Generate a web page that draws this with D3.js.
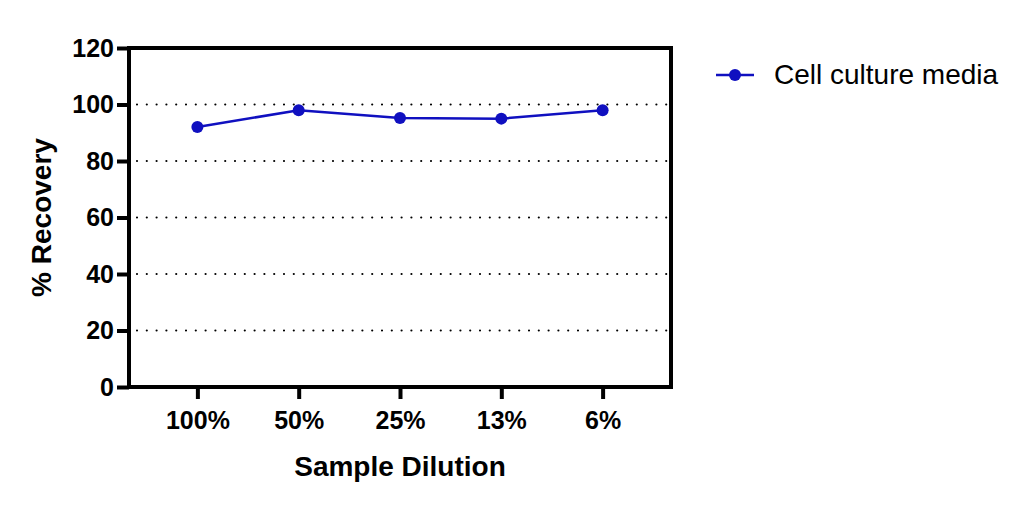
<!DOCTYPE html>
<html><head><meta charset="utf-8">
<script src="https://cdn.jsdelivr.net/npm/d3@7.9.0/dist/d3.min.js"></script>
<style>body{margin:0;background:#fff}text{font-family:Arial,"Liberation Sans",sans-serif;font-weight:bold}</style>
</head><body><svg id="c" width="1028" height="507"></svg>
<script>
const dilutions = ['100%', '50%', '25%', '13%', '6%'];
const recovery = [92, 98, 95.2, 95, 98];
const yTicks = [0, 20, 40, 60, 80, 100, 120];
const seriesName = 'Cell culture media';

const svg = d3.select('#c');
const L = 129, R = 671, T = 48, B = 387;
const color = '#1010c0';

const x = d3.scalePoint().domain(dilutions).range([L, R]).padding(0.675);
const y = d3.scaleLinear().domain([0, 120]).range([B, T]);

// dotted grid
svg.append('g').selectAll('line').data(yTicks.filter(d => d > 0 && d < 120)).join('line')
    .attr('x1', L + 8).attr('x2', R).attr('y1', d => y(d)).attr('y2', d => y(d))
    .attr('stroke', '#000').attr('stroke-width', 2.2).attr('stroke-dasharray', '0 9.8').attr('stroke-linecap', 'round');

// frame
svg.append('rect').attr('x', L).attr('y', T).attr('width', R - L).attr('height', B - T)
    .attr('fill', 'none').attr('stroke', '#000').attr('stroke-width', 4);

const ya = svg.append('g').attr('transform', `translate(${L},0)`)
    .call(d3.axisLeft(y).tickValues(yTicks).tickSize(12).tickPadding(3));
const xa = svg.append('g').attr('transform', `translate(0,${B})`)
    .call(d3.axisBottom(x).tickSize(12).tickPadding(12));
[ya, xa].forEach(a => {
    a.select('.domain').remove();
    a.selectAll('line').attr('stroke-width', 4);
    a.selectAll('text').style('font-size', '25px').attr('fill', '#000')
        .style('font-family', 'Arial,"Liberation Sans",sans-serif').style('font-weight', 'bold');
});

svg.append('text').attr('x', 400).attr('y', 476).attr('text-anchor', 'middle').style('font-size', '28px').text('Sample Dilution');
svg.append('text').attr('transform', `translate(51,${(T + B) / 2}) rotate(-90)`).attr('text-anchor', 'middle')
    .style('font-size', '28px').text('% Recovery');

const line = d3.line().x((d, i) => x(dilutions[i])).y(d => y(d));
svg.append('path').datum(recovery).attr('d', line).attr('fill', 'none').attr('stroke', color).attr('stroke-width', 2.5);
svg.append('g').selectAll('circle').data(recovery).join('circle')
    .attr('cx', (d, i) => x(dilutions[i])).attr('cy', d => y(d)).attr('r', 6).attr('fill', color);

// legend
const lg = svg.append('g').attr('transform', 'translate(716,75)');
lg.append('line').attr('x1', 0).attr('x2', 38).attr('stroke', color).attr('stroke-width', 2.5);
lg.append('circle').attr('cx', 19).attr('r', 6).attr('fill', color);
lg.append('text').attr('x', 58).attr('y', 9).style('font-size', '28px').style('font-weight', 'normal').text(seriesName);
</script></body></html>
